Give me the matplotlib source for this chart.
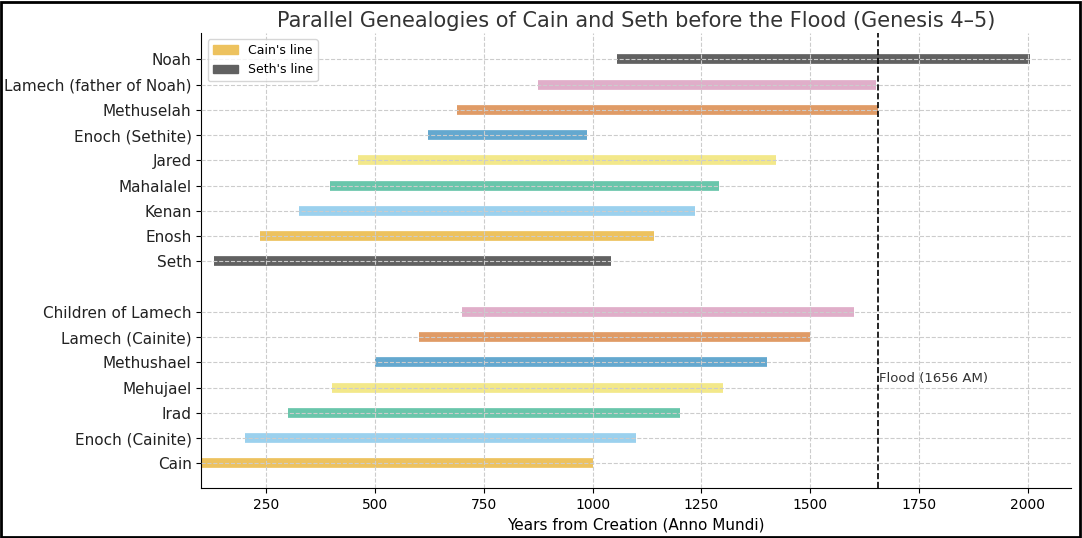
import matplotlib
matplotlib.use("Agg")
import matplotlib.pyplot as plt
from matplotlib.patches import Patch

names = ["Cain", "Enoch (Cainite)", "Irad", "Mehujael", "Methushael",
         "Lamech (Cainite)", "Children of Lamech",
         "Seth", "Enosh", "Kenan", "Mahalalel", "Jared", "Enoch (Sethite)",
         "Methuselah", "Lamech (father of Noah)", "Noah"]
starts = [100, 200, 300, 400, 500, 600, 700,
          130, 235, 325, 395, 460, 622, 687, 874, 1056]
ends = [1000, 1100, 1200, 1300, 1400, 1500, 1600,
        1042, 1140, 1235, 1290, 1422, 987, 1656, 1651, 2006]
ypos = [0, 1, 2, 3, 4, 5, 6, 8, 9, 10, 11, 12, 13, 14, 15]
ypos = [0, 1, 2, 3, 4, 5, 6] + [8, 9, 10, 11, 12, 13, 14, 15, 16]
colors = ["#edc25e", "#9bd1ee", "#69c6ab", "#f3e88a", "#64a8cf", "#e09b66", "#e0aec9",
          "#616161", "#edc25e", "#9bd1ee", "#69c6ab", "#f3e88a", "#64a8cf", "#e09b66",
          "#e0aec9", "#616161"]
flood_year = 1656

fig = plt.figure(figsize=(10.82, 5.38), dpi=100)
ax = fig.add_axes([0.186, 0.093, 0.804, 0.846])
for y, s, e, c in zip(ypos, starts, ends, colors):
    ax.plot([s, e], [y, y], color=c, lw=7, solid_capstyle="butt", zorder=1)
ax.axvline(flood_year, color="black", ls="--", lw=1.2, zorder=3)
ax.text(flood_year + 2, 3.35, "Flood (1656 AM)", fontsize=9.5, color="#333333",
        va="center")

ax.set_yticks(ypos)
ax.set_yticklabels(names, fontsize=11, color="#222222")
ax.set_xlim(100, 2100)
ax.set_ylim(-0.97, 17.05)
ax.set_xticks([250, 500, 750, 1000, 1250, 1500, 1750, 2000])
ax.tick_params(axis="x", labelsize=10)
ax.set_xlabel("Years from Creation (Anno Mundi)", fontsize=11)
ax.set_title("Parallel Genealogies of Cain and Seth before the Flood (Genesis 4\u20135)",
             fontsize=15, color="#333333", pad=4)
ax.grid(True, ls="--", color="#cccccc", lw=0.8, zorder=2)
ax.set_axisbelow(False)
for sp in ["top", "right"]:
    ax.spines[sp].set_visible(False)
ax.legend(handles=[Patch(color="#edc25e", label="Cain's line"),
                   Patch(color="#616161", label="Seth's line")],
          loc="upper left", fontsize=9)

fig.patches.append(plt.Rectangle((0.001, 0.002), 0.997, 0.995, transform=fig.transFigure,
                                 fill=False, edgecolor="black", lw=2))
fig.savefig("out.png", dpi=100)
